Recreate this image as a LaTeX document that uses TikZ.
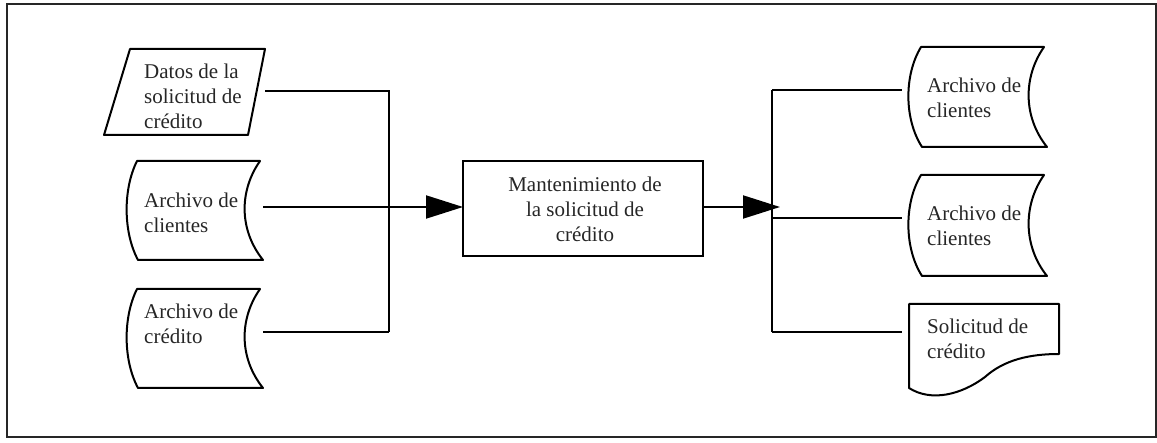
\documentclass[tikz,border=0pt]{standalone}
\usepackage{fontspec}
\setmainfont{Liberation Serif}
\usetikzlibrary{arrows.meta}
\newcommand\drawstored[3]{% name, left offset, right inset
  \draw[shp] ([xshift=#2]#1.north west) -- ([xshift=-3pt]#1.north east)
    .. controls ([xshift=-24pt,yshift=-30pt]#1.north east) and ([xshift=-24pt,yshift=30pt]#1.south east) .. (#1.south east)
    -- ([xshift=#2+1pt]#1.south west)
    .. controls ([xshift=-4pt,yshift=28pt]#1.south west) and ([xshift=-4pt,yshift=-28pt]#1.north west) .. ([xshift=#2]#1.north west) -- cycle;}
\begin{document}
\begin{tikzpicture}[x=1pt,y=-1pt,
  shp/.style={line width=2pt,line join=round},
  area/.style={draw=none,inner sep=0pt,outer sep=0pt},
  conn/.style={line width=2pt},
  txt/.style={font=\fontsize{21}{25}\selectfont,align=left,inner sep=0pt,anchor=north west,text=black!85},
  arr/.style={conn,-{Triangle[length=37pt,width=23pt]}}]
\useasboundingbox (0,0) rectangle (1157,443);
\draw[line width=2.4pt,black!85] (7,4) rectangle (1156,437);
% left shapes
\node[area,minimum width=161pt,minimum height=86pt] (datos) at (184.5,92) {};
\draw[shp] ([xshift=26pt]datos.north west) -- (datos.north east) -- ([xshift=-17pt]datos.south east) -- (datos.south west) -- cycle;
\node[area,minimum width=136pt,minimum height=99pt] (cli1) at (195,210.5) {};
\drawstored{cli1}{10pt}{3pt}
\node[area,minimum width=136pt,minimum height=99pt] (cred) at (195,338.5) {};
\drawstored{cred}{10pt}{3pt}
% process
\node[area,draw,line width=2pt,minimum width=240pt,minimum height=95pt] (proc) at (583,208.5) {};
% right shapes
\node[area,minimum width=139pt,minimum height=100pt] (cli2) at (977.5,97) {};
\drawstored{cli2}{13pt}{3pt}
\node[area,minimum width=139pt,minimum height=101pt] (cli3) at (977.5,225.5) {};
\drawstored{cli3}{13pt}{3pt}
\node[area,minimum width=150pt,minimum height=93pt] (sol) at (984,350.5) {};
\draw[shp] (sol.north west) -- (sol.north east) -- ([yshift=-50pt]sol.north east)
  .. controls ([xshift=-30pt,yshift=-50pt]sol.north east) and ([xshift=-55pt,yshift=-56pt]sol.north east) .. ([xshift=76pt,yshift=20pt]sol.south west)
  .. controls ([xshift=52pt,yshift=2pt]sol.south west) and ([xshift=22pt,yshift=-5pt]sol.south west) .. ([yshift=9pt]sol.south west) -- cycle;
% texts
\node[txt] (tdatos) at (144,64) {Datos de la\\solicitud de\\crédito};
\node[txt] (tcli1) at (144,193) {Archivo de\\clientes};
\node[txt] (tcred) at (144,304) {Archivo de\\crédito};
\node[txt,align=center,anchor=north] (tproc) at (585,177) {Mantenimiento de\\la solicitud de\\crédito};
\node[txt] (tcli2) at (927,78) {Archivo de\\clientes};
\node[txt] (tcli3) at (927,206) {Archivo de\\clientes};
\node[txt] (tsol) at (927,319) {Solicitud de\\crédito};
% bus coordinates
\coordinate (lb1) at (389,91);
\coordinate (lb2) at (389,207);
\coordinate (lb3) at (389,332);
\coordinate (rb1) at (772,90);
\coordinate (rb2) at (772,218);
\coordinate (rb3) at (772,332);
\coordinate (rtip) at (780,207);
% connectors left
\draw[conn] (datos.east |- lb1) -- (lb1) -- (lb3);
\draw[conn] (cli1.east |- lb2) -- (lb2);
\draw[conn] (cred.east |- lb3) -- (lb3);
\draw[arr] (lb2) -- (proc.west |- lb2);
% connectors right
\draw[arr] (proc.east |- rtip) -- (rtip);
\draw[conn] (rb1) -- (rb3);
\draw[conn] (rb1) -- ([xshift=-6pt]cli2.west |- rb1);
\draw[conn] (rb2) -- ([xshift=-6pt]cli3.west |- rb2);
\draw[conn] (rb3) -- ([xshift=-7pt]sol.west |- rb3);
\end{tikzpicture}
\end{document}
